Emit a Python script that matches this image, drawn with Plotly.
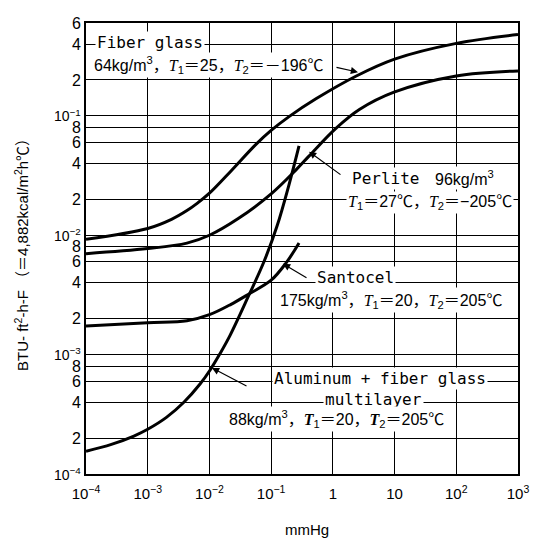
import plotly.graph_objects as go

# ---------------- data ----------------
pressure_fiber = [1e-4, 1e-3, 0.00243, 0.00432, 0.00632, 0.01, 0.0224, 0.0562, 0.1, 0.195, 0.532, 2.40, 10, 100, 1000]
k_fiber = [0.00924, 0.0114, 0.0136, 0.0161, 0.0185, 0.0225, 0.0346, 0.0575, 0.0755, 0.0986, 0.139, 0.216, 0.299, 0.405, 0.481]

pressure_perlite = [1e-4, 1e-3, 0.00432, 0.01, 0.0293, 0.1, 0.253, 0.41, 1.12, 2.69, 9.8, 100, 1000]
k_perlite = [0.00701, 0.00773, 0.00859, 0.0100, 0.0138, 0.0222, 0.0353, 0.0460, 0.0785, 0.113, 0.158, 0.216, 0.238]

pressure_santocel = [1e-4, 1e-3, 0.00432, 0.01, 0.0224, 0.043, 0.1, 0.175, 0.283]
k_santocel = [0.00174, 0.00185, 0.00192, 0.00216, 0.00264, 0.00321, 0.0042, 0.00587, 0.00863]

pressure_alu = [1e-4, 2.58e-4, 5.97e-4, 1e-3, 0.00201, 0.00385, 0.0071, 0.0104, 0.0147, 0.0216,
                0.043, 0.0764, 0.125, 0.195, 0.283]
k_alu = [1.55e-4, 1.77e-4, 2.08e-4, 2.37e-4, 2.98e-4, 3.99e-4, 5.70e-4, 7.51e-4, 1.01e-3, 1.45e-3,
         3.1e-3, 6.0e-3, 0.0120, 0.0266, 0.0561]

x_tickvals = [1e-4, 1e-3, 1e-2, 1e-1, 1, 10, 100, 1000]
x_ticktext = ["10<sup>−4</sup>", "10<sup>−3</sup>", "10<sup>−2</sup>", "10<sup>−1</sup>",
              "1", "10", "10<sup>2</sup>", "10<sup>3</sup>"]

y_tickvals = [1e-4, 2e-4, 4e-4, 6e-4, 8e-4,
              1e-3, 2e-3, 4e-3, 6e-3, 8e-3,
              1e-2, 2e-2, 4e-2, 6e-2, 8e-2,
              1e-1, 2e-1, 4e-1, 6e-1]
big = "<span style='font-size:14px'>10<sup>−%d</sup></span>"
y_ticktext = [big % 4, "2", "4", "6", "8",
              big % 3, "2", "4", "6", "8",
              big % 2, "2", "4", "6", "8",
              big % 1, "2", "4", "6"]

# ---------------- figure ----------------
# page is offset by the 8px body margin; plot area in the page: x 86..518, y 15..474
W, H = 534, 532
L, T = 78, 7
pw, ph = 432, 459
R, B = W - L - pw, H - T - ph


def px2paper(px, py):
    """page pixel -> paper coords"""
    return (px - 86) / pw, (474 - py) / ph


fig = go.Figure()
for xs, ys in [(pressure_fiber, k_fiber), (pressure_perlite, k_perlite),
               (pressure_santocel, k_santocel), (pressure_alu, k_alu)]:
    fig.add_trace(go.Scatter(x=xs, y=ys, mode="lines",
                             line=dict(color="black", width=3, shape="spline", smoothing=1.0),
                             showlegend=False, hoverinfo="skip"))

MONO = "DejaVu Sans Mono"
SANS = "Liberation Sans, Noto Sans CJK JP"
TI = "<span style='font-family:Liberation Serif'><i>T</i></span>"
TB = "<span style='font-family:Liberation Serif'><b><i>T</i></b></span>"

labels = [
    ("Fiber glass", 95, 35, MONO, 16, "left"),
    ("64kg/m<sup>3</sup>，" + TI + "<sub>1</sub>＝25，" + TI + "<sub>2</sub>＝－196℃", 92, 58, SANS, 16, "left"),
    ("Perlite", 350, 173, MONO, 16, "left"),
    ("96kg/m<sup>3</sup>", 433, 173, SANS, 16, "left"),
    (TI + "<sub>1</sub>＝27℃，" + TI + "<sub>2</sub>＝−205℃", 346, 198, SANS, 16, "left"),
    ("Santocel", 315, 274, MONO, 16, "left"),
    ("175kg/m<sup>3</sup>，" + TI + "<sub>1</sub>＝20，" + TI + "<sub>2</sub>＝205℃", 278, 297, SANS, 16, "left"),
    ("Aluminum + fiber glass", 272, 377, MONO, 16, "left"),
    ("multilayer", 373, 398, MONO, 16, "center"),
    ("88kg/m<sup>3</sup>，" + TB + "<sub>1</sub>＝20，" + TB + "<sub>2</sub>＝205℃", 227, 418, SANS, 16, "left"),
]
for text, px, py, fam, size, anchor in labels:
    xp, yp = px2paper(px, py)
    fig.add_annotation(text=text, xref="paper", yref="paper", x=xp, y=yp,
                       xanchor=anchor, yanchor="middle", showarrow=False,
                       font=dict(family=fam, size=size, color="black"),
                       bgcolor="white", borderpad=1)

# leader arrows: (tail px, tail py, tip px, tip py) in page pixels
arrows = [(335, 60, 358, 65), (342, 170, 309, 146), (308, 275, 283, 260), (248, 385, 212, 366)]
for tx, ty, hx, hy in arrows:
    xp, yp = px2paper(hx, hy)
    fig.add_annotation(text="", xref="paper", yref="paper", x=xp, y=yp,
                       ax=tx - hx, ay=ty - hy, showarrow=True,
                       arrowhead=2, arrowsize=1.2, arrowwidth=1.2, arrowcolor="black")

# axis titles
fig.add_annotation(text="mmHg", xref="paper", yref="paper", x=px2paper(307, 0)[0], y=px2paper(0, 530)[1],
                   showarrow=False, font=dict(family=SANS, size=15, color="black"),
                   xanchor="center", yanchor="middle")
fig.add_annotation(text="BTU- ft<sup>2</sup>-h-F （＝4,882kcal/m<sup>2</sup>h℃）", xref="paper", yref="paper",
                   x=px2paper(22, 0)[0], y=px2paper(0, 247)[1], textangle=-90,
                   showarrow=False, font=dict(family=SANS, size=15, color="black"),
                   xanchor="center", yanchor="middle")

fig.update_xaxes(type="log", range=[-4, 3], tickvals=x_tickvals, ticktext=x_ticktext,
                 showgrid=True, gridcolor="black", gridwidth=1,
                 showline=True, linecolor="black", linewidth=2, mirror=True,
                 ticks="", ticklabelstandoff=5,
                 tickfont=dict(family=SANS, size=15, color="black"), zeroline=False)
fig.update_yaxes(type="log", range=[-4, -0.2218], tickvals=y_tickvals, ticktext=y_ticktext,
                 showgrid=True, gridcolor="black", gridwidth=1,
                 showline=True, linecolor="black", linewidth=2, mirror=True,
                 ticks="", tickfont=dict(family=SANS, size=16, color="black"), zeroline=False)

fig.update_layout(width=W, height=H, margin=dict(l=L, r=R, t=T, b=B),
                  plot_bgcolor="white", paper_bgcolor="white", showlegend=False)

fig.write_html("out.html")
